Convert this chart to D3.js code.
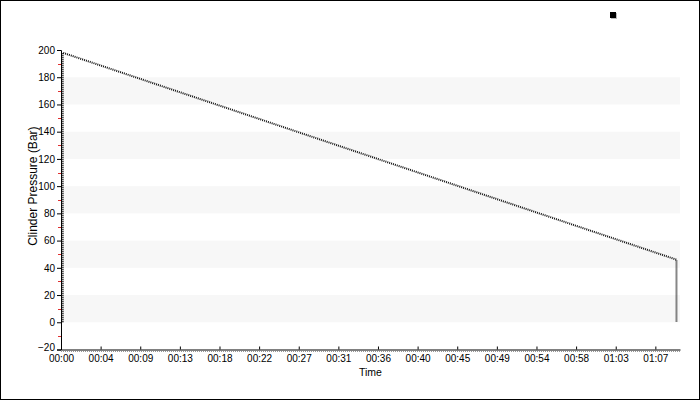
<!DOCTYPE html>
<html>
<head>
<meta charset="utf-8">
<script src="https://cdn.jsdelivr.net/npm/d3@7"></script>
<style>
  html, body { margin: 0; padding: 0; background: #fff; }
  svg { display: block; font-family: "Liberation Sans", Arial, sans-serif; }
</style>
</head>
<body>
<svg id="chart" width="700" height="400"></svg>
<script>
// ---- data ----
const timeMinutes = [0.2, 0.2, 69.9, 69.9];
const pressureBar = [0, 198, 46, 0];
const xTickMinutes = [0, 4.5, 9, 13.5, 18, 22.5, 27, 31.5, 36, 40.5, 45, 49.5, 54, 58.5, 63, 67.5];
const xTickLabels = ["00:00","00:04","00:09","00:13","00:18","00:22","00:27","00:31","00:36","00:40","00:45","00:49","00:54","00:58","01:03","01:07"];
const yTickValues = [-20, 0, 20, 40, 60, 80, 100, 120, 140, 160, 180, 200];
const yMinorValues = [-10, 10, 30, 50, 70, 90, 110, 130, 150, 170, 190];
const bandStarts = [0, 40, 80, 120, 160];
const bandSize = 20;
const xDomain = [0, 70.3];
const yDomain = [-20, 200];

// ---- layout ----
const svg = d3.select("#chart");
const W = 700, H = 400;
const mLeft = 61, mRight = 680, mTop = 50, mBottom = 349.5;

const x = d3.scaleLinear().domain(xDomain).range([mLeft, mRight]);
const y = d3.scaleLinear().domain(yDomain).range([mBottom, mTop]);

// border
svg.append("rect")
  .attr("x", 0.5).attr("y", 0.5).attr("width", W - 1).attr("height", H - 1)
  .attr("fill", "#fff").attr("stroke", "#000").attr("stroke-width", 1);

// background bands
svg.append("g").selectAll("rect").data(bandStarts).join("rect")
  .attr("x", mLeft + 1)
  .attr("y", d => y(d + bandSize))
  .attr("width", mRight - mLeft - 1)
  .attr("height", d => y(d) - y(d + bandSize))
  .attr("fill", "#f7f7f7");

// y axis
const yAxis = d3.axisLeft(y).tickValues(yTickValues).tickSize(4).tickPadding(2);
const gy = svg.append("g").attr("transform", `translate(${mLeft},0)`).call(yAxis);
gy.select(".domain").attr("stroke", "#000");
gy.selectAll(".tick line").attr("stroke", "#000");
gy.selectAll(".tick text").attr("font-size", 10).attr("fill", "#000")
  .attr("font-family", "Liberation Sans, Arial, sans-serif")
  .attr("dy", d => d === yDomain[0] ? "0.1em" : "0.32em");

// minor red ticks
svg.append("g").selectAll("line").data(yMinorValues).join("line")
  .attr("x1", mLeft - 3).attr("x2", mLeft)
  .attr("y1", d => Math.round(y(d)) + 0.5).attr("y2", d => Math.round(y(d)) + 0.5)
  .attr("stroke", "#e03030").attr("stroke-width", 1);

// x axis dotted under-line
svg.append("line")
  .attr("x1", mLeft).attr("x2", mRight)
  .attr("y1", mBottom + 2).attr("y2", mBottom + 2)
  .attr("stroke", "#999").attr("stroke-dasharray", "1,1");

// x axis
const xAxis = d3.axisBottom(x)
  .tickValues(xTickMinutes)
  .tickFormat((d, i) => xTickLabels[i])
  .tickSizeInner(-3).tickSizeOuter(0).tickPadding(5);
const gx = svg.append("g").attr("transform", `translate(0,${mBottom})`).call(xAxis);
gx.select(".domain").attr("stroke", "#000");
gx.selectAll(".tick line").attr("stroke", "#000");
gx.selectAll(".tick text").attr("font-size", 10).attr("fill", "#000")
  .attr("font-family", "Liberation Sans, Arial, sans-serif");

// axis titles
svg.append("text")
  .attr("x", (mLeft + mRight) / 2).attr("y", 376)
  .attr("text-anchor", "middle").attr("font-size", 10.5).attr("fill", "#000")
  .text("Time");
svg.append("text")
  .attr("transform", `translate(37,${y(100)}) rotate(-90)`)
  .attr("text-anchor", "middle").attr("font-size", 12).attr("fill", "#000")
  .text("Clinder Pressure (Bar)");

// data line
const pts = timeMinutes.map((t, i) => [t, pressureBar[i]]);
const line = d3.line().x(d => x(d[0])).y(d => y(d[1]));
svg.append("path")
  .datum(pts)
  .attr("d", line)
  .attr("fill", "none")
  .attr("stroke", "#111")
  .attr("stroke-width", 2)
  .attr("stroke-dasharray", "1,1");

// legend marker
svg.append("rect").attr("x", 611).attr("y", 13).attr("width", 6).attr("height", 6).attr("fill", "#bbb");
svg.append("rect").attr("x", 610).attr("y", 12).attr("width", 6).attr("height", 6).attr("fill", "#000");
</script>
</body>
</html>
